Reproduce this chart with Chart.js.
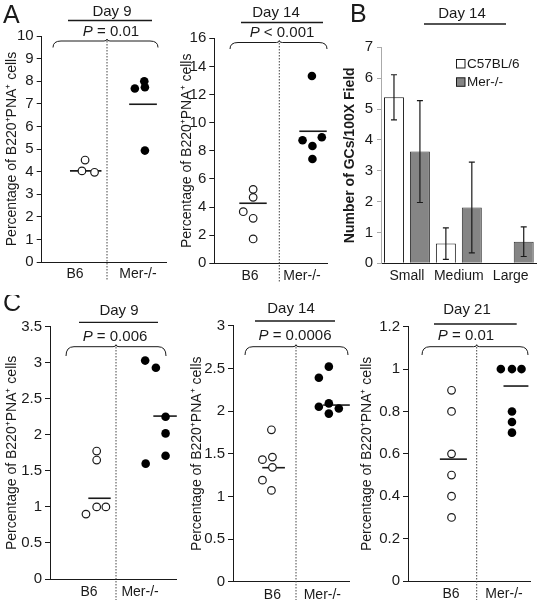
<!DOCTYPE html>
<html>
<head>
<meta charset="utf-8">
<script src="https://cdn.jsdelivr.net/npm/chart.js@4.4.1/dist/chart.umd.min.js"></script>
<style>
  body { margin: 0; background: #fff; }
  #wrap { position: relative; width: 538px; height: 601px; overflow: hidden; }
  canvas { position: absolute; }
</style>
</head>
<body>
<div id="wrap">
  <canvas id="a9"></canvas>
  <canvas id="a14"></canvas>
  <canvas id="bgc"></canvas>
  <canvas id="c9"></canvas>
  <canvas id="c14"></canvas>
  <canvas id="c21"></canvas>
</div>
<script>
const FONT = "'Liberation Sans', Arial, sans-serif";
const INK = '#1a1a1a';

// group names on the dot plots
const groups = ['B6', 'Mer-/-'];
const yTitle = 'Percentage of B220\u207APNA\u207A cells';

// A, day 9
const a9B6 = [4.51, 4.03, 3.97];
const a9B6Jit = [0.16, 0.11, 0.31];
const a9Mer = [7.68, 8.0, 7.73, 4.93];
const a9MerJit = [-0.05, 0.1, 0.11, 0.11];
const a9Mean = [4.03, 6.98];

// A, day 14
const a14B6 = [5.26, 4.69, 3.67, 3.2, 1.73];
const a14B6Jit = [0.06, 0.06, -0.13, 0.06, 0.06];
const a14Mer = [13.32, 8.75, 8.96, 8.34, 7.42];
const a14MerJit = [0.19, 0.01, 0.38, 0.2, 0.2];
const a14Mean = [4.27, 9.39];

// B, GCs per field at day 14
const sizes = ['Small', 'Medium', 'Large'];
const gcC57 = [5.38, 0.64, null];
const gcC57Sd = [0.73, 0.51, null];
const gcMer = [3.62, 1.81, 0.70];
const gcMerSd = [1.65, 1.47, 0.48];

// C, day 9
const c9B6 = [1.775, 1.65, 1.0, 0.9, 1.0];
const c9B6Jit = [0.15, 0.15, 0.15, -0.06, 0.33];
const c9Mer = [3.03, 2.93, 2.25, 2.02, 1.71, 1.6];
const c9MerJit = [0.1, 0.31, 0.5, 0.5, 0.5, 0.11];
const c9Mean = [1.12, 2.26];

// C, day 14
const c14B6 = [1.78, 1.43, 1.46, 1.34, 1.19, 1.07];
const c14B6Jit = [-0.02, -0.2, 0.0, 0.0, -0.2, -0.02];
const c14Mer = [2.52, 2.39, 2.09, 2.05, 2.03, 1.97];
const c14MerJit = [0.13, -0.07, 0.13, -0.07, 0.33, 0.13];
const c14Mean = [1.336, 2.07];

// C, day 21
const c21B6 = [0.9, 0.8, 0.6, 0.5, 0.4, 0.3];
const c21B6Jit = [0.01, 0.01, 0.01, 0.01, 0.01, 0.01];
const c21Mer = [1.0, 1.0, 1.0, 0.8, 0.75, 0.7];
const c21MerJit = [-0.06, 0.15, 0.33, 0.15, 0.15, 0.15];
const c21Mean = [0.575, 0.92];

const dayLabels = ['Day 9', 'Day 14', 'Day 14', 'Day 9', 'Day 14', 'Day 21'];
const pLabels = ['= 0.01', '< 0.001', '= 0.006', '= 0.0006', '= 0.01'];

// page layout of each panel (pixels)
const layA9 = {
  box: [0, 0, 172, 292], area: [41.7, 36, 166.7, 262], x: [-0.529, 1.456],
  yMax: 10, yStep: 1, labelPad: 4, meanSpan: [[-0.08, 0.42], [-0.14, 0.30]],
  letter: { t: 'A', x: 3, y: 23 }, day: { t: dayLabels[0], x: 112, y: 12 },
  rule: [68, 152, 20.5], p: { t: pLabels[0], x: 111, y: 32 },
  brace: [53, 158, 41, 47.5], divider: [107, 41, 281]
};
const layA14 = {
  box: [175, 0, 160, 292], area: [214.3, 38.3, 327, 263.3], x: [-0.687, 1.48],
  yMax: 16, yStep: 2, labelPad: 4, meanSpan: [[-0.206, 0.321], [-0.052, 0.475]],
  day: { t: dayLabels[1], x: 276, y: 13 },
  rule: [241, 323, 22.5], p: { t: pLabels[1], x: 282, y: 33 },
  brace: [230, 327, 42.5, 49], divider: [279.3, 43, 283]
};
const layB = {
  box: [338, 0, 200, 292], area: [381, 47.3, 536.7, 263.3],
  letter: { t: 'B', x: 350, y: 22 }, day: { t: dayLabels[2], x: 462, y: 14 },
  rule: [424, 506, 24]
};
const layC9 = {
  box: [0, 295, 182, 306], area: [50, 326.7, 176.9, 579], x: [-0.765, 1.72],
  yMax: 3.5, yStep: 0.5, labelPad: 5, meanSpan: [[-0.014, 0.425], [0.26, 0.72]],
  letter: { t: 'C', x: 3, y: 311 }, day: { t: dayLabels[3], x: 119, y: 311 },
  rule: [79, 158, 322.3], p: { t: pLabels[2], x: 115, y: 336.5 },
  brace: [66, 166, 346.7, 356], divider: [116, 347, 600]
};
const layC14 = {
  box: [185, 295, 170, 306], area: [233, 325.7, 350, 581.7], x: [-0.79, 1.55],
  yMax: 3, yStep: 0.5, labelPad: 5, meanSpan: [[-0.204, 0.25], [0.016, 0.55]],
  day: { t: dayLabels[4], x: 291, y: 309 },
  rule: [255, 335, 321], p: { t: pLabels[3], x: 295, y: 335.5 },
  brace: [245, 348, 346.7, 355], divider: [296, 347, 600]
};
const layC21 = {
  box: [355, 295, 183, 306], area: [408, 326.7, 530, 581], x: [-0.811, 1.49],
  yMax: 1.2, yStep: 0.2, labelPad: 5, meanSpan: [[-0.21, 0.30], [-0.01, 0.46]],
  day: { t: dayLabels[5], x: 467, y: 310 },
  rule: [434, 516.7, 324], p: { t: pLabels[4], x: 466, y: 335.5 },
  brace: [422, 528, 346.7, 355], divider: [476.7, 347, 600]
};

// plain tick numbers: 3 not 3.0
const fmt = v => String(Number(v.toFixed(3)));

// headers, braces, dotted dividers and panel letters
function decoPlugin(lay) {
  return {
    id: 'deco',
    afterDraw(chart) {
      const ctx = chart.ctx;
      ctx.save();
      ctx.translate(-lay.box[0], -lay.box[1]);
      ctx.fillStyle = INK;
      ctx.strokeStyle = INK;
      if (lay.letter) {
        ctx.font = '25px ' + FONT;
        ctx.textAlign = 'left';
        ctx.textBaseline = 'alphabetic';
        ctx.fillText(lay.letter.t, lay.letter.x, lay.letter.y);
      }
      if (lay.day) {
        ctx.font = '15px ' + FONT;
        ctx.textAlign = 'center';
        ctx.textBaseline = 'middle';
        ctx.fillText(lay.day.t, lay.day.x, lay.day.y);
      }
      if (lay.rule) {
        ctx.lineWidth = 1.3;
        ctx.beginPath();
        ctx.moveTo(lay.rule[0], lay.rule[2]);
        ctx.lineTo(lay.rule[1], lay.rule[2]);
        ctx.stroke();
      }
      if (lay.p) {
        ctx.textBaseline = 'middle';
        ctx.textAlign = 'left';
        ctx.font = 'italic 15px ' + FONT;
        const wp = ctx.measureText('P ').width;
        ctx.font = '15px ' + FONT;
        const wr = ctx.measureText(lay.p.t).width;
        const x0 = lay.p.x - (wp + wr) / 2;
        ctx.font = 'italic 15px ' + FONT;
        ctx.fillText('P', x0, lay.p.y);
        ctx.font = '15px ' + FONT;
        ctx.fillText(lay.p.t, x0 + wp, lay.p.y);
      }
      if (lay.brace) {
        const [x0, x1, top, end] = lay.brace;
        const mid = lay.divider[0];
        const r = 8;
        ctx.lineWidth = 1;
        ctx.beginPath();
        ctx.moveTo(x0, end);
        ctx.quadraticCurveTo(x0, top, x0 + r, top);
        ctx.lineTo(mid - 3, top);
        ctx.quadraticCurveTo(mid, top, mid, top - 2);
        ctx.quadraticCurveTo(mid, top, mid + 3, top);
        ctx.lineTo(x1 - r, top);
        ctx.quadraticCurveTo(x1, top, x1, end);
        ctx.stroke();
      }
      if (lay.divider) {
        const [x, y0, y1] = lay.divider;
        ctx.strokeStyle = '#444';
        ctx.lineWidth = 1;
        ctx.setLineDash([1.5, 1.5]);
        ctx.beginPath();
        ctx.moveTo(x, y0);
        ctx.lineTo(x, y1);
        ctx.stroke();
      }
      ctx.restore();
    }
  };
}

function place(id, lay) {
  const cv = document.getElementById(id);
  cv.width = lay.box[2];
  cv.height = lay.box[3];
  cv.style.left = lay.box[0] + 'px';
  cv.style.top = lay.box[1] + 'px';
  return cv;
}

function dotPanel(id, lay, b6, b6Jit, mer, merJit, mean) {
  const [L, T, W, H] = lay.box;
  const [al, at, ar, ab] = lay.area;
  const pts = (vals, jit, base) => vals.map((v, i) => ({ x: base + jit[i], y: v }));
  const meanLine = (m, span, base) => [{ x: base + span[0], y: m }, { x: base + span[1], y: m }];
  const lineStyle = { showLine: true, borderColor: INK, borderWidth: 1.6, pointRadius: 0, clip: false };
  new Chart(place(id, lay), {
    type: 'scatter',
    data: {
      datasets: [
        { data: pts(b6, b6Jit, 0), pointStyle: 'circle', pointRadius: 3.8, backgroundColor: '#fff',
          borderColor: INK, borderWidth: 1.2, clip: false },
        { data: pts(mer, merJit, 1), pointStyle: 'circle', pointRadius: 4.3, backgroundColor: '#000',
          borderColor: '#000', borderWidth: 0, clip: false },
        { data: meanLine(mean[0], lay.meanSpan[0], 0), ...lineStyle },
        { data: meanLine(mean[1], lay.meanSpan[1], 1), ...lineStyle }
      ]
    },
    options: {
      responsive: false,
      animation: false,
      layout: { padding: { left: 0, top: at - T, right: L + W - ar, bottom: 0 } },
      plugins: { legend: { display: false }, tooltip: { enabled: false } },
      scales: {
        x: {
          type: 'linear', min: lay.x[0], max: lay.x[1],
          afterFit: s => { s.height = T + H - ab; },
          afterBuildTicks: s => { s.ticks = [{ value: 0 }, { value: 1 }]; },
          grid: { display: false, drawTicks: false },
          border: { display: true, color: INK, width: 1 },
          ticks: { callback: v => groups[v], padding: lay.labelPad, color: INK,
                   font: { size: 14, family: FONT }, maxRotation: 0, autoSkip: false }
        },
        y: {
          min: 0, max: lay.yMax,
          afterFit: s => { s.width = al - L; },
          grid: { drawOnChartArea: false, tickLength: 5, color: INK },
          border: { color: INK, width: 1 },
          ticks: { stepSize: lay.yStep, padding: 3, color: INK, callback: fmt,
                   font: { size: 15, family: FONT } },
          title: { display: true, text: yTitle, color: INK, padding: { top: 4, bottom: 0 },
                   font: { size: 14, family: FONT } }
        }
      }
    },
    plugins: [decoPlugin(lay)]
  });
}

dotPanel('a9', layA9, a9B6, a9B6Jit, a9Mer, a9MerJit, a9Mean);
dotPanel('a14', layA14, a14B6, a14B6Jit, a14Mer, a14MerJit, a14Mean);
dotPanel('c9', layC9, c9B6, c9B6Jit, c9Mer, c9MerJit, c9Mean);
dotPanel('c14', layC14, c14B6, c14B6Jit, c14Mer, c14MerJit, c14Mean);
dotPanel('c21', layC21, c21B6, c21B6Jit, c21Mer, c21MerJit, c21Mean);

// error bars for the GC chart
const errorBars = {
  id: 'errorBars',
  afterDatasetsDraw(chart) {
    const ctx = chart.ctx;
    const ys = chart.scales.y;
    ctx.save();
    ctx.strokeStyle = INK;
    ctx.lineWidth = 1.2;
    chart.data.datasets.forEach((ds, i) => {
      chart.getDatasetMeta(i).data.forEach((bar, j) => {
        const v = ds.data[j], e = ds.sd[j];
        if (v == null || e == null) return;
        const x = bar.x;
        const y1 = ys.getPixelForValue(v + e), y0 = ys.getPixelForValue(v - e);
        ctx.beginPath();
        ctx.moveTo(x, y0); ctx.lineTo(x, y1);
        ctx.moveTo(x - 3, y0); ctx.lineTo(x + 3, y0);
        ctx.moveTo(x - 3, y1); ctx.lineTo(x + 3, y1);
        ctx.stroke();
      });
    });
    ctx.restore();
  }
};

// legend boxes inside the GC chart
const gcLegend = {
  id: 'gcLegend',
  afterDraw(chart) {
    const ctx = chart.ctx;
    const [L, T] = layB.box;
    ctx.save();
    ctx.translate(-L, -T);
    ctx.font = '13.5px ' + FONT;
    ctx.textAlign = 'left';
    ctx.textBaseline = 'middle';
    chart.data.datasets.forEach((ds, i) => {
      const y = 59.5 + i * 18.3;
      ctx.fillStyle = ds.backgroundColor;
      ctx.fillRect(456.5, y, 8.5, 8.5);
      ctx.strokeStyle = INK;
      ctx.lineWidth = 1;
      ctx.strokeRect(456.5, y, 8.5, 8.5);
      ctx.fillStyle = INK;
      ctx.fillText(ds.label, 467, y + 4.5);
    });
    ctx.restore();
  }
};

(function () {
  const lay = layB;
  const [L, T, W, H] = lay.box;
  const [al, at, ar, ab] = lay.area;
  new Chart(place('bgc', lay), {
    type: 'bar',
    data: {
      labels: sizes,
      datasets: [
        { label: 'C57BL/6', data: gcC57, sd: gcC57Sd, backgroundColor: '#ffffff',
          borderColor: INK, borderWidth: 1 },
        { label: 'Mer-/-', data: gcMer, sd: gcMerSd, backgroundColor: '#858585',
          borderColor: '#333', borderWidth: 1 }
      ]
    },
    options: {
      responsive: false,
      animation: false,
      layout: { padding: { left: 0, top: at - T, right: L + W - ar, bottom: 0 } },
      plugins: { legend: { display: false }, tooltip: { enabled: false } },
      datasets: { bar: { categoryPercentage: 1.0, barPercentage: 0.77 } },
      scales: {
        x: {
          afterFit: s => { s.height = T + H - ab; },
          grid: { display: false, drawTicks: false },
          border: { display: true, color: INK, width: 1 },
          ticks: { padding: 4, color: INK, font: { size: 14, family: FONT }, maxRotation: 0, autoSkip: false }
        },
        y: {
          min: 0, max: 7,
          afterFit: s => { s.width = al - L; },
          grid: { drawOnChartArea: false, tickLength: 4, color: '#aaa' },
          border: { color: '#aaa', width: 1 },
          ticks: { stepSize: 1, padding: 4, color: INK, callback: fmt, font: { size: 15, family: FONT } },
          title: { display: true, text: 'Number of GCs/100X Field', color: INK, padding: { top: 4, bottom: 0 },
                   font: { size: 14, weight: 'bold', family: FONT } }
        }
      }
    },
    plugins: [errorBars, gcLegend, decoPlugin(lay)]
  });
})();
</script>
</body>
</html>
